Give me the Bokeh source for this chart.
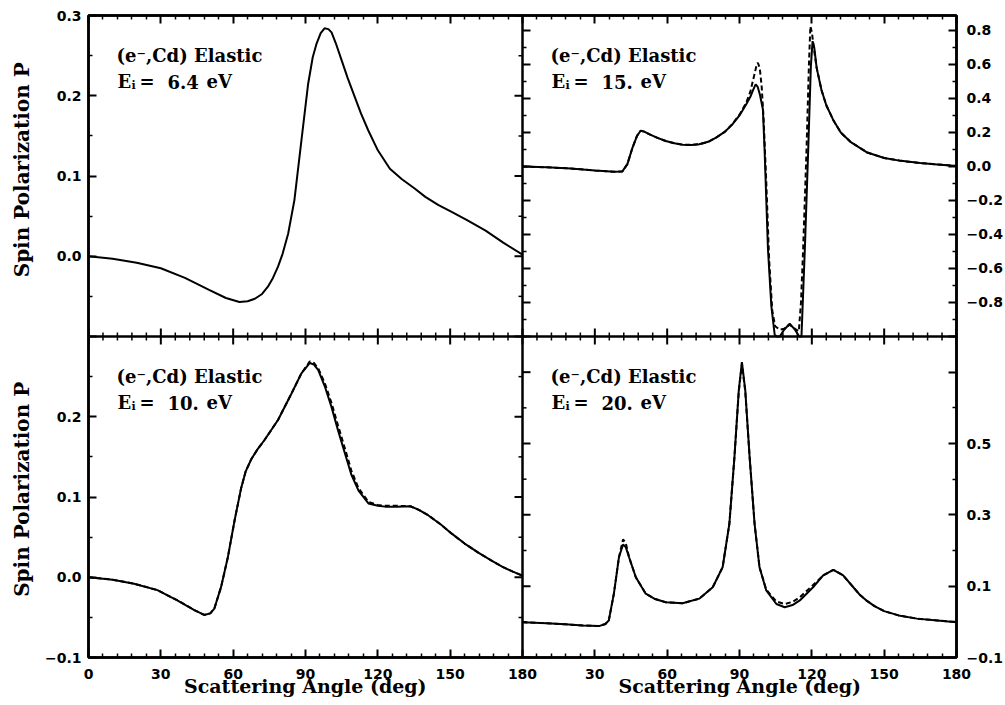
import math
from bokeh.plotting import figure
from bokeh.models import Range1d, LinearAxis, FixedTicker, CustomJSTickFormatter, Span, Label
from bokeh.embed import file_html
from bokeh.resources import INLINE

# ---------------- data ----------------
# top-left panel, E = 6.4 eV (solid only; dashed coincides)
tl_angle = [0, 10, 20, 30, 40, 50, 57, 62.6, 66, 69, 72, 74.4, 76.5, 78.6, 80.5, 82.8, 85.4, 88.3,
            91.1, 93, 94.6, 96.3, 97.9, 99.5, 100.8, 102.5, 105, 107.5, 110.5, 113, 116, 120, 125,
            130, 135, 139.7, 145, 150.8, 157, 164.7, 172, 180]
tl_p = [0, -0.003, -0.008, -0.015, -0.027, -0.042, -0.052, -0.057, -0.056, -0.053, -0.047, -0.038,
        -0.027, -0.013, 0.003, 0.028, 0.070, 0.144, 0.215, 0.248, 0.265, 0.278, 0.284, 0.283, 0.279,
        0.266, 0.244, 0.222, 0.198, 0.178, 0.157, 0.132, 0.109, 0.096, 0.085, 0.074, 0.064, 0.055,
        0.045, 0.032, 0.017, 0.002]

# top-right panel, E = 15 eV
tr_angle_solid = [0, 10, 20, 30, 38, 41.4, 43.5, 45.6, 47.5, 49, 50.5, 52.5, 56, 59.4, 63, 66.4, 70,
                  73.3, 77, 80.3, 84, 87.2, 90, 92.8, 94.5, 95.8, 96.7, 97.5, 98.5, 99.7, 100.4,
                  101.8, 103.2, 104.6, 105.5, 106.7, 108.5, 110.8, 113, 114.8, 115.7, 117.1, 118.5,
                  119.6, 120.3, 121, 122, 124, 126, 129, 132, 136, 143, 150, 157, 165, 172, 180]
tr_p_solid = [0.0, -0.005, -0.012, -0.023, -0.031, -0.029, 0.014, 0.11, 0.18, 0.21, 0.205, 0.19,
              0.168, 0.15, 0.137, 0.128, 0.127, 0.131, 0.145, 0.17, 0.205, 0.25, 0.30, 0.366, 0.41,
              0.455, 0.483, 0.47, 0.42, 0.337, 0.10, -0.485, -0.82, -0.99, -1.0, -1.0, -0.96,
              -0.925, -0.96, -1.0, -1.0, -0.485, 0.10, 0.59, 0.737, 0.70, 0.58, 0.45, 0.36, 0.27,
              0.2, 0.145, 0.082, 0.05, 0.033, 0.02, 0.012, 0.003]
tr_angle_dash = [0, 10, 20, 30, 38, 41.4, 43.5, 45.6, 47.5, 49, 50.5, 52.5, 56, 59.4, 63, 66.4, 70,
                 73.3, 77, 80.3, 84, 87.2, 90, 92.8, 94.5, 96, 97, 97.6, 98.4, 99.2, 100, 101.1,
                 102.3, 103.6, 104.8, 106.7, 108.5, 110.8, 113, 114.6, 115.5, 116.4, 117.8, 118.8,
                 119.4, 120, 120.8, 122, 124, 126, 129, 132, 136, 143, 150, 157, 165, 172, 180]
tr_p_dash = [0.0, -0.005, -0.012, -0.023, -0.031, -0.029, 0.014, 0.11, 0.18, 0.21, 0.205, 0.19,
             0.168, 0.15, 0.137, 0.128, 0.127, 0.131, 0.145, 0.17, 0.205, 0.252, 0.305, 0.375, 0.44,
             0.53, 0.59, 0.61, 0.58, 0.47, 0.28, -0.09, -0.55, -0.85, -0.94, -0.96, -0.955, -0.93,
             -0.955, -0.97, -0.8, -0.485, 0.10, 0.6, 0.825, 0.79, 0.7, 0.58, 0.45, 0.36, 0.27, 0.2,
             0.145, 0.082, 0.05, 0.033, 0.02, 0.012, 0.003]

# bottom-left panel, E = 10 eV
bl_angle = [0, 10, 18.9, 28.6, 37, 43.9, 48, 50.5, 52.2, 55, 57.8, 60.6, 63.3, 65.2, 67.5, 70, 73,
            78.6, 84.2, 88.3, 91.8, 93.5, 95.3, 98, 100.8, 103.5, 106.4, 109, 112, 116.1, 120, 123,
            128, 133.5, 137, 141, 146, 150.8, 156, 162, 167, 171.7, 176, 180]
bl_p_solid = [0, -0.003, -0.008, -0.016, -0.029, -0.041, -0.047, -0.045, -0.039, -0.012, 0.025,
              0.071, 0.111, 0.132, 0.147, 0.159, 0.171, 0.196, 0.229, 0.254, 0.267, 0.265, 0.258,
              0.238, 0.212, 0.183, 0.154, 0.128, 0.108, 0.092, 0.089, 0.088, 0.088, 0.0885, 0.084,
              0.077, 0.066, 0.054, 0.042, 0.03, 0.021, 0.013, 0.007, 0.002]
bl_p_dash = [0, -0.003, -0.008, -0.016, -0.029, -0.041, -0.047, -0.045, -0.039, -0.012, 0.025,
             0.071, 0.111, 0.132, 0.147, 0.159, 0.171, 0.196, 0.229, 0.254, 0.269, 0.267, 0.26,
             0.242, 0.217, 0.189, 0.16, 0.133, 0.111, 0.094, 0.09, 0.089, 0.089, 0.0885, 0.084,
             0.077, 0.066, 0.054, 0.042, 0.03, 0.021, 0.013, 0.007, 0.002]

# bottom-right panel, E = 20 eV
br_angle = [0, 10, 17.8, 25, 31.7, 34.4, 35.8, 37.9, 40, 41.7, 42.8, 44.2, 47, 51.1, 55, 59.4, 66.4,
            73.3, 78.9, 83, 85.8, 87.9, 89.7, 91, 92.4, 94.2, 96.25, 98.3, 101.1, 105.3, 108.75, 112,
            115, 120.5, 124.7, 128.9, 133, 137.2, 140, 143, 146, 150, 156, 163.6, 172, 180]
br_p_solid = [-0.001, -0.004, -0.007, -0.01, -0.012, -0.006, 0.004, 0.079, 0.181, 0.217, 0.21,
              0.181, 0.125, 0.079, 0.064, 0.055, 0.052, 0.065, 0.097, 0.153, 0.275, 0.462, 0.649,
              0.728, 0.649, 0.462, 0.275, 0.153, 0.088, 0.05, 0.041, 0.047, 0.06, 0.097, 0.13,
              0.146, 0.13, 0.097, 0.075, 0.058, 0.044, 0.03, 0.018, 0.009, 0.004, -0.001]
br_p_dash = [-0.001, -0.004, -0.007, -0.01, -0.012, -0.006, 0.004, 0.079, 0.181, 0.231, 0.222,
             0.181, 0.125, 0.079, 0.064, 0.055, 0.052, 0.065, 0.097, 0.153, 0.275, 0.462, 0.645,
             0.724, 0.645, 0.462, 0.275, 0.153, 0.09, 0.057, 0.05, 0.056, 0.069, 0.103, 0.13,
             0.146, 0.13, 0.097, 0.075, 0.058, 0.044, 0.03, 0.018, 0.009, 0.004, -0.001]

ENERGIES = {"tl": "6.4", "tr": "15.", "bl": "10.", "br": "20."}
TITLE_TEXT = "(e\u207b,Cd) Elastic"
X_TITLE = "Scattering Angle (deg)"
Y_TITLE = "Spin Polarization P"

ANGLE_TICKS = [0, 30, 60, 90, 120, 150, 180]
ANGLE_LABELS_LEFT = ["0", "30", "60", "90", "120", "150", "180"]
ANGLE_LABELS_RIGHT = ["", "30", "60", "90", "120", "150", "180"]
ANGLE_MINOR = [6, 12, 18, 24, 36, 42, 48, 54, 66, 72, 78, 84, 96, 102, 108, 114, 126, 132, 138,
               144, 156, 162, 168, 174]

TL_TICKS = [-0.1, 0.0, 0.1, 0.2, 0.3]
TL_LABELS = ["", "0.0", "0.1", "0.2", "0.3"]
BL_TICKS = [-0.1, 0.0, 0.1, 0.2, 0.3]
BL_LABELS = ["\u22120.1", "0.0", "0.1", "0.2", ""]
LEFT_MINOR = [-0.05, 0.05, 0.15, 0.25]
TR_TICKS = [-1.0, -0.8, -0.6, -0.4, -0.2, 0.0, 0.2, 0.4, 0.6, 0.8]
TR_LABELS = ["", "\u22120.8", "\u22120.6", "\u22120.4", "\u22120.2", "0.0", "0.2", "0.4", "0.6", "0.8"]
TR_MINOR = [-0.9, -0.7, -0.5, -0.3, -0.1, 0.1, 0.3, 0.5, 0.7]
BR_TICKS = [-0.1, 0.1, 0.3, 0.5, 0.7]
BR_LABELS = ["\u22120.1", "0.1", "0.3", "0.5", ""]
BR_MINOR = [0.0, 0.2, 0.4, 0.6, 0.8]

# value range shown in each panel
RANGES = {"tl": (-0.1, 0.3), "tr": (-1.0, 0.888), "bl": (-0.1, 0.3), "br": (-0.1, 0.8)}
XL = (0.0, 360.0)     # left panels use 0..180 of this
XR = (-180.0, 180.0)  # right panels use 0..180 of this

# ---------------- layout constants ----------------
FRAME_W, FRAME_H = 868, 642
MAJ, MIN = 8, 4
SERIF = "DejaVu Serif"
SANS = "DejaVu Sans"
NBSP = "\u00a0"


def full(name):
    lo, hi = RANGES[name]
    span = hi - lo
    return (lo - span, hi) if name[0] == "t" else (lo, hi + span)


def remap(v, src, dst):
    return dst[0] + (v - src[0]) / (src[1] - src[0]) * (dst[1] - dst[0])


def merge(entries):
    d = {}
    for pos, lab in entries:
        k = round(pos, 6)
        if k not in d or lab:
            d[k] = lab
    ks = sorted(d)
    return ks, [d[k] for k in ks]


def fmt(vals, labs):
    return CustomJSTickFormatter(args=dict(vals=vals, labs=labs), code="""
for (let i = 0; i < vals.length; i++) { if (Math.abs(vals[i] - tick) < 1e-6) { return labs[i]; } }
return "";""")


def style_axis(ax, size, standoff):
    ax.axis_line_width = 2.5
    ax.axis_line_color = "black"
    ax.major_tick_in = MAJ
    ax.major_tick_out = 0
    ax.minor_tick_in = MIN
    ax.minor_tick_out = 0
    ax.major_tick_line_width = 2
    ax.minor_tick_line_width = 1.5
    ax.major_tick_line_color = "black"
    ax.minor_tick_line_color = "black"
    ax.major_label_text_font = SANS
    ax.major_label_text_font_style = "bold"
    ax.major_label_text_font_size = size
    ax.major_label_text_color = "black"
    ax.major_label_standoff = standoff
    ax.axis_label_text_font = SERIF
    ax.axis_label_text_font_style = "bold"
    ax.axis_label_text_font_size = "19px"
    ax.axis_label_text_color = "black"


BL_FULL = full("bl")
p = figure(frame_width=FRAME_W, frame_height=FRAME_H, x_range=Range1d(*XL), y_range=Range1d(*BL_FULL),
           x_axis_type=None, y_axis_type=None, output_backend="svg", toolbar_location=None,
           min_border_left=88, min_border_right=48, min_border_top=15, min_border_bottom=46)
p.extra_x_ranges = {"r": Range1d(*XR)}
p.extra_y_ranges = {n: Range1d(*full(n)) for n in ("tl", "tr", "br")}
p.outline_line_color = "black"
p.outline_line_width = 2.5
p.background_fill_color = "white"
p.border_fill_color = "white"

# ---- x axes (bottom with labels, top without) ----
x_entries = [(remap(a, XL, XL), l) for a, l in zip(ANGLE_TICKS, ANGLE_LABELS_LEFT)] + \
            [(remap(a, XR, XL), l) for a, l in zip(ANGLE_TICKS, ANGLE_LABELS_RIGHT)]
x_major, x_labels = merge(x_entries)
x_minor = sorted([remap(a, XL, XL) for a in ANGLE_MINOR] + [remap(a, XR, XL) for a in ANGLE_MINOR])

xb = LinearAxis(ticker=FixedTicker(ticks=x_major, minor_ticks=x_minor), formatter=fmt(x_major, x_labels))
style_axis(xb, "14px", 11)
# one axis title under each bottom panel (the two panel centres are 434 px apart)
xb.axis_label = X_TITLE + NBSP * 29 + X_TITLE
xb.axis_label_standoff = -7
p.add_layout(xb, "below")
xt = LinearAxis(ticker=FixedTicker(ticks=x_major, minor_ticks=x_minor), formatter=fmt(x_major, ["" for _ in x_major]))
style_axis(xt, "0px", 0)
p.add_layout(xt, "above")

# ---- left axis (both left panels on the default y range) ----
l_entries = [(remap(v, full("bl"), BL_FULL), l) for v, l in zip(BL_TICKS, BL_LABELS)] + \
            [(remap(v, full("tl"), BL_FULL), l) for v, l in zip(TL_TICKS, TL_LABELS)]
l_major, l_labels = merge(l_entries)
l_minor = sorted([remap(v, full("bl"), BL_FULL) for v in LEFT_MINOR] +
                 [remap(v, full("tl"), BL_FULL) for v in LEFT_MINOR])
yl = LinearAxis(ticker=FixedTicker(ticks=l_major, minor_ticks=l_minor), formatter=fmt(l_major, l_labels))
style_axis(yl, "14px", 7)
# one axis title beside each left panel
yl.axis_label = NBSP * 2 + Y_TITLE + NBSP * 15 + Y_TITLE
yl.axis_label_text_font_size = "20px"
yl.axis_label_standoff = 8
p.add_layout(yl, "left")

# ---- right axis (both right panels on the "br" range) ----
BR_FULL = full("br")
r_entries = [(remap(v, full("br"), BR_FULL), l) for v, l in zip(BR_TICKS, BR_LABELS)] + \
            [(remap(v, full("tr"), BR_FULL), l) for v, l in zip(TR_TICKS, TR_LABELS)]
r_major, r_labels = merge(r_entries)
r_minor = sorted([remap(v, full("br"), BR_FULL) for v in BR_MINOR] +
                 [remap(v, full("tr"), BR_FULL) for v in TR_MINOR])
yr = LinearAxis(y_range_name="br", ticker=FixedTicker(ticks=r_major, minor_ticks=r_minor),
                formatter=fmt(r_major, r_labels))
style_axis(yr, "14px", 10)
p.add_layout(yr, "right")

# ---- inner frame lines between the panels ----
x_mid = (XL[0] + XL[1]) / 2
y_mid = RANGES["bl"][1]
p.add_layout(Span(location=x_mid, dimension="height", line_color="black", line_width=2.5))
p.add_layout(Span(location=y_mid, dimension="width", line_color="black", line_width=2.5))

px_deg = FRAME_W / (XL[1] - XL[0])
px_y = FRAME_H / (BL_FULL[1] - BL_FULL[0])

# ticks along the horizontal middle line (both sides)
for pos, L, w in ((x_major, MAJ, 2), (x_minor, MIN, 1.5)):
    n = len(pos)
    p.segment(x0=pos, y0=[y_mid - L / px_y] * n, x1=pos, y1=[y_mid + L / px_y] * n,
              line_color="black", line_width=w)
# ticks along the vertical middle line: left panels point left, right panels point right
for pos, L, w in ((l_major, MAJ, 2), (l_minor, MIN, 1.5)):
    n = len(pos)
    p.segment(x0=[x_mid - L / px_deg] * n, y0=pos, x1=[x_mid] * n, y1=pos, line_color="black", line_width=w)
for pos, L, w in ((r_major, MAJ, 2), (r_minor, MIN, 1.5)):
    n = len(pos)
    p.segment(x0=[x_mid] * n, y0=pos, x1=[x_mid + L / px_deg] * n, y1=pos, y_range_name="br",
              line_color="black", line_width=w)

# ---- curves ----
LW = 2
DASH = "5 3"
p.line(tl_angle, tl_p, y_range_name="tl", line_color="black", line_width=LW)
p.line(tr_angle_dash, tr_p_dash, x_range_name="r", y_range_name="tr", line_color="black", line_width=LW, line_dash=DASH)
p.line(tr_angle_solid, tr_p_solid, x_range_name="r", y_range_name="tr", line_color="black", line_width=LW)
p.line(bl_angle, bl_p_dash, line_color="black", line_width=LW, line_dash=DASH)
p.line(bl_angle, bl_p_solid, line_color="black", line_width=LW)
p.line(br_angle, br_p_dash, x_range_name="r", y_range_name="br", line_color="black", line_width=LW, line_dash=DASH)
p.line(br_angle, br_p_solid, x_range_name="r", y_range_name="br", line_color="black", line_width=LW)

# ---- in-panel texts ----
panels = [("tl", "default", "tl"), ("tr", "r", "tr"), ("bl", "default", "default"), ("br", "r", "br")]
for key, xrn, yrn in panels:
    top = RANGES[key][1]
    common = dict(x=ANGLE_TICKS[0], y=top, x_range_name=xrn, y_range_name=yrn, text_font=SERIF,
                  text_font_style="bold", text_color="black", text_baseline="alphabetic", text_align="left")
    p.add_layout(Label(text=TITLE_TEXT, x_offset=28, y_offset=-40, text_font_size="18px", **common))
    p.add_layout(Label(text="E", x_offset=29, y_offset=-66, text_font_size="18px", **common))
    p.add_layout(Label(text="i", x_offset=43, y_offset=-70, text_font_size="11px", **common))
    p.add_layout(Label(text="=", x_offset=51, y_offset=-66, text_font_size="18px", **common))
    p.add_layout(Label(text=ENERGIES[key], x_offset=79, y_offset=-66, text_font_size="18px", **common))
    p.add_layout(Label(text="eV", x_offset=118, y_offset=-66, text_font_size="18px", **common))

open("out.html", "w").write(file_html(p, INLINE))
